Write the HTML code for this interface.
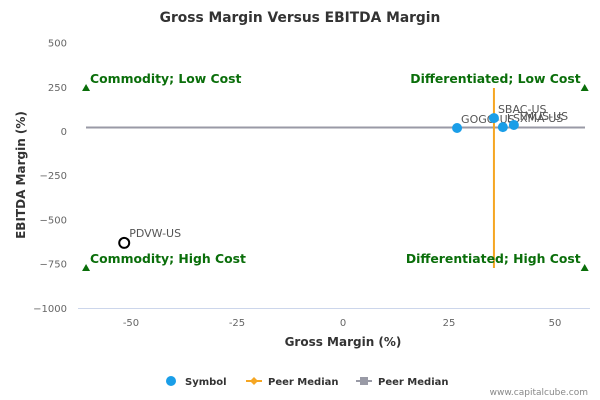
<!DOCTYPE html>
<html><head><meta charset="utf-8"><style>
html,body{margin:0;padding:0;background:#fff;width:600px;height:400px;overflow:hidden}
svg text{font-family:"DejaVu Sans","Liberation Sans",sans-serif}
</style></head><body>
<svg id="chart" width="600" height="400" xmlns="http://www.w3.org/2000/svg">
<text x="300" y="22" text-anchor="middle" font-size="13.8" font-weight="bold" fill="#333">Gross Margin Versus EBITDA Margin</text>
<g id="axes"></g>
<g id="marks"></g>
<text x="343" y="346" text-anchor="middle" font-size="12" font-weight="bold" fill="#333">Gross Margin (%)</text>
<text transform="translate(25,175) rotate(-90)" text-anchor="middle" font-size="12" font-weight="bold" fill="#333">EBITDA Margin (%)</text>
<g>
<g><circle cx="171" cy="381" r="5" fill="#1a9ee8"/><text x="185" y="385" font-size="10" font-weight="bold" fill="#333">Symbol</text></g>
<g><line x1="246" y1="381" x2="262" y2="381" stroke="#f5a623" stroke-width="2"/><path d="M254 377 L258 381 L254 385 L250 381Z" fill="#f5a623"/><text x="268" y="385" font-size="10" font-weight="bold" fill="#333">Peer Median</text></g>
<g><line x1="356" y1="381" x2="372" y2="381" stroke="#999aa6" stroke-width="2"/><rect x="360" y="377" width="8" height="8" fill="#999aa6"/><text x="378" y="385" font-size="10" font-weight="bold" fill="#333">Peer Median</text></g>
</g>
<text x="588" y="395" text-anchor="end" font-size="9" fill="#888">www.capitalcube.com</text>
</svg>
<script>
const xTicks=[-50,-25,0,25,50];
const yTicks=[500,250,0,-250,-500,-750,-1000];
const names=["GOGO-US","SBAC-US","LSXMA-US","TMUS-US"];
const gross=[26.9,35.6,37.7,40.3];
const ebitda=[17,73,22,34];
const outNames=["PDVW-US"];
const outGross=[-51.6];
const outEbitda=[-633];
const medianGross=[35.6];
const medianEbitda=[20];
const quadLabels=["Commodity; Low Cost","Differentiated; Low Cost","Commodity; High Cost","Differentiated; High Cost"];
const quadX=[-60.6,57,-60.6,57];
const quadY=[243,243,-775,-775];

const X=v=>343+v*4.24, Y=v=>131-v*0.1768;
const NS="http://www.w3.org/2000/svg";
const axes=document.getElementById('axes'), marks=document.getElementById('marks');
function mk(tag,attrs,parent,txt){const e=document.createElementNS(NS,tag);for(const k in attrs)e.setAttribute(k,attrs[k]);if(txt!==undefined)e.textContent=txt;parent.appendChild(e);return e;}
let e=mk('line',{x1:78,y1:308.5,x2:590,y2:308.5,stroke:'#ccd6eb'},axes);


xTicks.forEach(t=>{const g=mk('text',{x:X(t),y:326,'text-anchor':'middle','font-size':10,fill:'#666'},axes,String(t));

});
yTicks.forEach(t=>{const g=mk('text',{x:67,y:Y(t)+4,'text-anchor':'end','font-size':10,fill:'#666'},axes,t<0?'\u2212'+(-t):String(t));

});
e=mk('line',{x1:86,x2:585,y1:Y(medianEbitda[0]),y2:Y(medianEbitda[0]),stroke:'#999aa6','stroke-width':2},marks);


e=mk('line',{x1:X(medianGross[0]),x2:X(medianGross[0]),y1:Y(243),y2:Y(-775),stroke:'#f5a623','stroke-width':2},marks);


quadLabels.forEach((l,i)=>{const x=X(quadX[i]),y=Y(quadY[i]);
const t=mk('path',{d:`M${x} ${y-4} L${x+4} ${y+3} L${x-4} ${y+3}Z`,fill:'#0a6e0a'},marks);


const left=i%2===0;
const tx=mk('text',{x:left?x+4:x-4,y:y-5,'text-anchor':left?'start':'end','font-size':12.4,'font-weight':'bold',fill:'#0a6e0a'},marks,l);

});
names.forEach((n,i)=>{const c=mk('circle',{cx:X(gross[i]),cy:Y(ebitda[i]),r:5,fill:'#1a9ee8'},marks);


const t=mk('text',{x:X(gross[i])+4,y:Y(ebitda[i])-5,'font-size':11,fill:'#555'},marks,n);

});
outNames.forEach((n,i)=>{const c=mk('circle',{cx:X(outGross[i]),cy:Y(outEbitda[i]),r:5,fill:'#fff',stroke:'#000','stroke-width':2},marks);


const t=mk('text',{x:X(outGross[i])+5,y:Y(outEbitda[i])-6,'font-size':11,fill:'#555'},marks,n);

});
</script>
</body></html>
